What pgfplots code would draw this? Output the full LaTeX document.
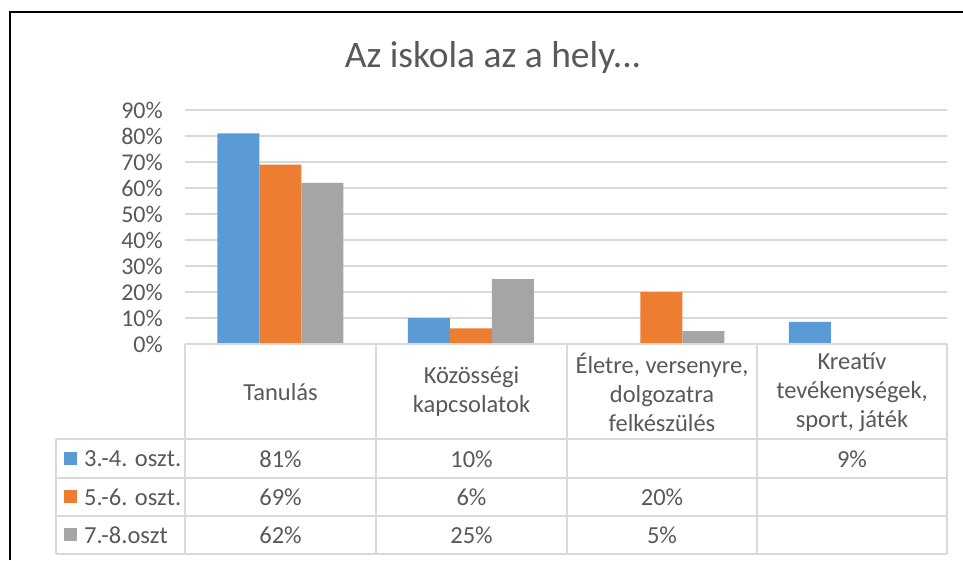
\documentclass[border=0pt]{standalone}
\usepackage{pgfplots}
\pgfplotsset{compat=1.18}
\usepackage{fontspec}
\setmainfont{Carlito}
\definecolor{cblue}{HTML}{5B9BD5}
\definecolor{corange}{HTML}{ED7D31}
\definecolor{cgray}{HTML}{A5A5A5}
\definecolor{gridc}{HTML}{D9D9D9}
\definecolor{txt}{HTML}{595959}
\newcommand{\tf}{\fontsize{24.5}{29}\selectfont}
\newcommand{\tkf}{\fontsize{24}{29}\selectfont}
\begin{document}
\begin{tikzpicture}[x=1pt,y=1pt]
\useasboundingbox (0,0) rectangle (963,560);
\fill[white] (0,0) rectangle (963,560);
\draw[black, line width=1.5pt] (10,0) -- (10,548) -- (964,548);
\node[txt, font=\fontsize{37.5}{42}\selectfont] at (493,502) {Az iskola az a hely...};
\begin{axis}[
  at={(185pt,216pt)}, anchor=south west,
  scale only axis, width=762pt, height=234pt,
  xmin=-0.5, xmax=3.5, ymin=0, ymax=90,
  ytick={0,10,...,90}, xtick=\empty,
  axis line style={draw=none}, major tick length=0pt,
  ymajorgrids, grid style={gridc, line width=1.5pt},
  ybar=0pt, bar width=42pt,
  /pgf/number format/assume math mode=true,
  yticklabel={\pgfmathprintnumber{\tick}\%},
  yticklabel style={txt, font=\tkf, anchor=east, inner sep=0pt, xshift=-22pt},
  clip=false,
]
\addplot[fill=cblue, draw=none] coordinates {(0,81) (1,10) (2,0) (3,8.5)};
\addplot[fill=corange, draw=none] coordinates {(0,69) (1,6) (2,20) (3,0)};
\addplot[fill=cgray, draw=none] coordinates {(0,62) (1,25) (2,5) (3,0)};
\end{axis}
% data table
\begin{scope}[gridc, line width=2pt]
\draw (185,216) -- (947,216);
\foreach \x in {185,376,567,757,947} \draw (\x,216) -- (\x,6);
\foreach \y in {121,82,44,6} \draw (56,\y) -- (947,\y);
\draw (56,121) -- (56,6);
\end{scope}
\begin{scope}[txt, font=\tf]
\node[align=center] at (280.5,168) {Tanulás};
\node[align=center] at (471.5,168) {Közösségi\\kapcsolatok};
\node[align=center] at (662,168) {Életre, versenyre,\\dolgozatra\\felkészülés};
\node[align=center] at (852,168) {Kreatív\\tevékenységek,\\sport, játék};
% legend keys
\fill[cblue] (64,95) rectangle (77,108);
\fill[corange] (64,57) rectangle (77,70);
\fill[cgray] (64,19) rectangle (77,32);
\node[anchor=west, inner sep=0pt] at (84,101) {3.-4. oszt.};
\node[anchor=west, inner sep=0pt] at (84,63) {5.-6. oszt.};
\node[anchor=west, inner sep=0pt] at (84,25) {7.-8.oszt};
% values
\node at (280.5,101) {81\%};
\node at (471.5,101) {10\%};
\node at (852,101) {9\%};
\node at (280.5,63) {69\%};
\node at (471.5,63) {6\%};
\node at (662,63) {20\%};
\node at (280.5,25) {62\%};
\node at (471.5,25) {25\%};
\node at (662,25) {5\%};
\end{scope}
\end{tikzpicture}
\end{document}
